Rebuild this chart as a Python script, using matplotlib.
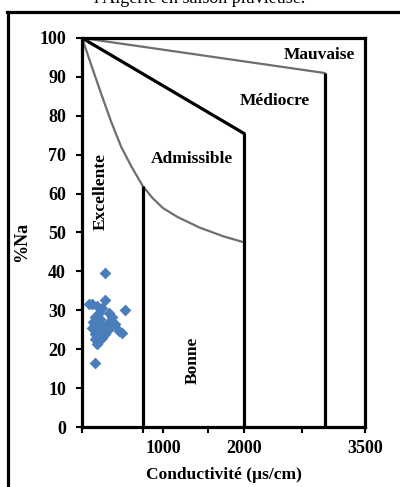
import numpy as np
import matplotlib
matplotlib.use("Agg")
import matplotlib.pyplot as plt
from matplotlib.lines import Line2D

#---------------- DONNEES ----------------

# points mesures (conductivite, %Na)
cond = [280, 530, 157, 82, 123, 185, 288, 247, 205, 330, 164, 226, 370, 329, 411,
        164, 247, 350, 452, 493, 205, 288, 164, 185, 247, 140, 205, 300, 120, 160]
na = [39.5, 30, 16.5, 31.5, 31.5, 31, 32.6, 30.6, 29.4, 29.4, 28.2, 27.8, 28.2, 27, 26.6,
      26.2, 25.8, 25.4, 24.6, 24.2, 24.2, 23.8, 22.6, 21.4, 23, 27, 27.5, 26, 25.5, 24]

# limites du diagramme de Wilcox
courbe_x = [0, 50, 115, 240, 360, 485, 610, 750, 875, 1000, 1180, 1450, 1750, 2000]
courbe_y = [100, 97, 93, 85.5, 78.5, 72, 67, 62, 58.8, 56.3, 54, 51.3, 49, 47.5]
mediocre_x = [0, 2000]
mediocre_y = [100, 75.5]
mauvaise_x = [0, 3000]
mauvaise_y = [100, 91]
limites_x = [750, 2000, 3000]
limites_y = [62, 75.5, 91]

classes = ["Mauvaise", "Médiocre", "Admissible", "Excellente", "Bonne"]
classes_x = [2935, 2380, 1356, 235, 1370]
classes_y = [95.7, 83.7, 69, 60.5, 17.2]
classes_rot = [0, 0, 0, 90, 90]

xticks = [0, 750, 1000, 1560, 2000, 2725, 3500]
xlabels = ["", "", "1000", "", "2000", "", "3500"]
yticks = list(range(0, 101, 10))

#---------------- FIGURE ----------------

serif = "Liberation Serif"
fig = plt.figure(figsize=(4, 4.87), dpi=100)
ax = fig.add_axes([0.205, 0.1232, 0.7075, 0.7988])

gris = "#6e6e6e"
ax.plot(courbe_x, courbe_y, color=gris, lw=1.6)
ax.plot(mauvaise_x, mauvaise_y, color=gris, lw=1.6)
ax.plot(mediocre_x, mediocre_y, color="black", lw=2.3)
for xl, yl in zip(limites_x, limites_y):
    ax.plot([xl, xl], [0, yl], color="black", lw=2.3, solid_capstyle="butt")

ax.scatter(cond, na, marker="D", s=36, color="#4a7ebb", zorder=3, linewidths=0)

for t, xx, yy, r in zip(classes, classes_x, classes_y, classes_rot):
    ax.text(xx, yy, t, rotation=r, ha="center", va="center",
            fontsize=12.5, fontweight="bold", family=serif)

ax.set_xlim(0, 3500)
ax.set_ylim(0, 100)
ax.set_xticks(xticks)
ax.set_xticklabels(xlabels)
ax.set_yticks(yticks)
for lab in ax.get_xticklabels() + ax.get_yticklabels():
    lab.set_fontfamily(serif)
    lab.set_fontweight("bold")
    lab.set_fontsize(13)
ax.tick_params(axis="both", length=4.5, width=1.5, direction="out")
ax.tick_params(axis="y", pad=7)
ax.tick_params(axis="x", pad=5)
for sp in ax.spines.values():
    sp.set_linewidth(2.3)

ax.set_xlabel("Conductivité (µs/cm)", fontsize=12.5, fontweight="bold", family=serif, labelpad=7)
ax.set_ylabel("%Na", fontsize=13, fontweight="bold", family=serif)
ax.yaxis.set_label_coords(-0.184, 0.476)

# cadre exterieur (coupe par l'image)
fig.add_artist(Line2D([7/400, 1.0], [1 - 12/487, 1 - 12/487], color="black", lw=2.3))
fig.add_artist(Line2D([8/400, 8/400], [0.0, 1 - 12/487], color="black", lw=2.3))

# titre coupe en haut
fig.text(0.5, 1 - 3/487, "l'Algérie en saison pluvieuse.", ha="center", va="baseline",
         fontsize=13, family=serif)

fig.savefig("out.png", dpi=100)
